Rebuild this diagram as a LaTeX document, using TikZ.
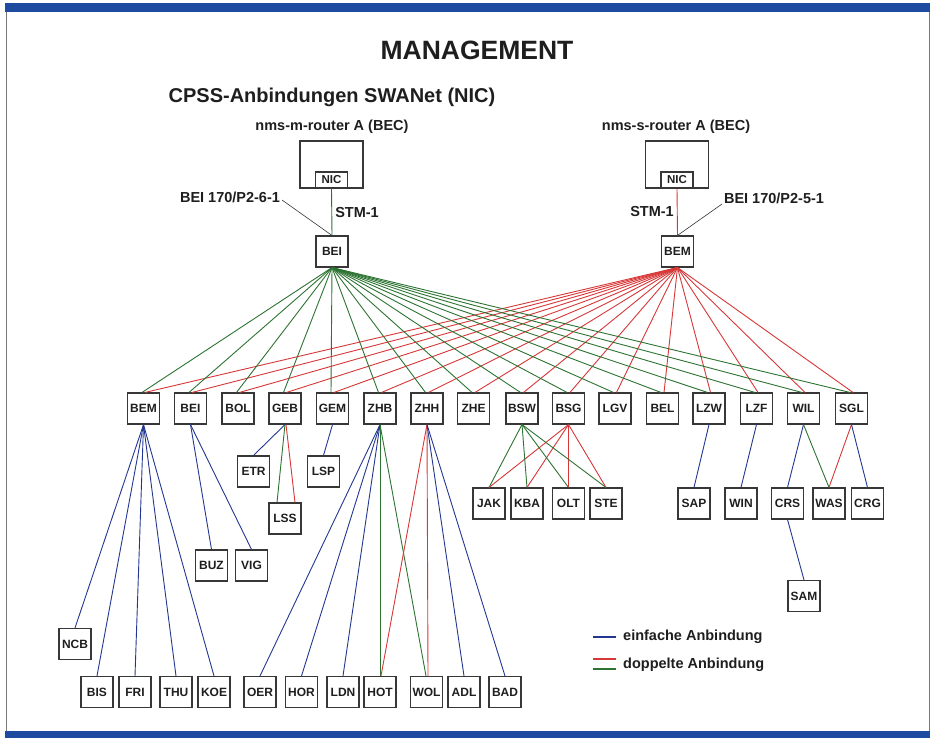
\documentclass[tikz,border=0pt]{standalone}
\usepackage{fontspec}
\setmainfont{Liberation Sans}
\usetikzlibrary{calc}
\definecolor{lgreen}{RGB}{45,115,50}
\definecolor{lred}{RGB}{215,55,55}
\definecolor{lblue}{RGB}{35,55,145}
\definecolor{barblue}{RGB}{30,75,160}
\definecolor{boxgray}{RGB}{55,55,55}
\definecolor{txt}{RGB}{30,30,30}
\definecolor{framegray}{RGB}{120,120,120}
\begin{document}
\begin{tikzpicture}[x=1pt,y=-1pt,
  box/.style={draw=boxgray, line width=1.1pt, minimum width=32pt, minimum height=31pt, inner sep=0pt, font=\fontsize{12}{12}\selectfont\bfseries, text=txt},
  nicbox/.style={draw=boxgray, line width=1.1pt, minimum width=32pt, minimum height=16pt, inner sep=0pt, font=\fontsize{11.5}{11.5}\selectfont\bfseries, text=txt},
  router/.style={draw=boxgray, line width=1.1pt, minimum width=63pt, minimum height=47pt, inner sep=0pt},
  lbl/.style={font=\fontsize{14.5}{14.5}\selectfont\bfseries, text=txt, inner sep=0pt},
  gl/.style={draw=lgreen, line width=0.9pt},
  rl/.style={draw=lred, line width=0.9pt},
  bl/.style={draw=lblue, line width=0.9pt},
  legl/.style={line width=1.2pt},
  leader/.style={draw=boxgray, line width=0.6pt}]
\useasboundingbox (0,0) rectangle (932,738);
% frame
\fill[barblue] (5,3) rectangle (930,12);
\fill[barblue] (5,731) rectangle (930,738);
\draw[framegray, line width=1pt] (6,12) -- (6,731);
\draw[framegray, line width=1pt] (929,12) -- (929,731);
% titles
\node[font=\fontsize{26.5}{26.5}\selectfont\bfseries, text=txt] (title) at (477,50) {MANAGEMENT};
\node[font=\fontsize{20}{20}\selectfont\bfseries, text=txt] (sub) at (332,97) {CPSS-Anbindungen SWANet (NIC)};
% routers
\node[lbl] (rtAlbl) at (332,127) {nms-m-router A (BEC)};
\node[router] (rtA) at (331.5,164.5) {};
\node[nicbox, anchor=south] (nicA) at (rtA.south) {NIC};
\node[lbl] (rtBlbl) at (676,127) {nms-s-router A (BEC)};
\node[router] (rtB) at (677,164.5) {};
\node[nicbox, anchor=south] (nicB) at (rtB.south) {NIC};
\node[box] (tBEI) at (332,251.5) {BEI};
\node[box] (tBEM) at (677.5,251.5) {BEM};
\node[lbl] (portA) at (230,197) {BEI 170/P2-6-1};
\node[lbl] (stmA) at (357,213) {STM-1};
\node[lbl] (portB) at (774,198) {BEI 170/P2-5-1};
\node[lbl] (stmB) at (652,212) {STM-1};
\coordinate (leadA) at (282,200);
\coordinate (leadB) at (722,204);
\draw[gl] (nicA.south) -- (tBEI.north);
\draw[rl] (nicB.south) -- (tBEM.north);
\draw[leader] (leadA) -- (tBEI.north);
\draw[leader] (leadB) -- (tBEM.north);
% row
\foreach \n/\x in {BEM/143.5,BEI/190.5,BOL/238,GEB/285,GEM/332.5,ZHB/380,ZHH/427,ZHE/473.5,BSW/522,BSG/568.5,LGV/615,BEL/662.5,LZW/709,LZF/756.5,WIL/803.5,SGL/851.5}
  \node[box] (r\n) at (\x,408.5) {\n};
% level 2
\foreach \n/\x in {JAK/489,KBA/527,OLT/568.5,STE/606,SAP/694,WIN/741,CRS/787.5,WAS/829,CRG/867.5}
  \node[box] (\n) at (\x,503.5) {\n};
\node[box] (ETR) at (253.5,471.5) {ETR};
\node[box] (LSP) at (323.5,471.5) {LSP};
\node[box] (LSS) at (285,518.5) {LSS};
\node[box] (BUZ) at (211.5,565.5) {BUZ};
\node[box] (VIG) at (251.5,565.5) {VIG};
\node[box] (NCB) at (75,644) {NCB};
\node[box] (SAM) at (804,596) {SAM};
\foreach \n/\x in {BIS/97,FRI/135,THU/176,KOE/214,OER/260,HOR/301.5,LDN/343,HOT/380,WOL/426.5,ADL/464,BAD/505}
  \node[box] (\n) at (\x,692) {\n};
% fans
\foreach \n in {rBEM,rBEI,rBOL,rGEB,rGEM,rZHB,rZHH,rZHE,rBSW,rBSG,rLGV,rBEL,rLZW,rLZF,rWIL,rSGL} {
  \draw[gl] (tBEI.south) -- ([xshift=-1.5pt]\n.north);
  \draw[rl] (tBEM.south) -- ([xshift=1.5pt]\n.north);
}
% children
\foreach \c in {NCB,BIS,FRI,THU,KOE} \draw[bl] (rBEM.south) -- (\c.north);
\foreach \c in {BUZ,VIG} \draw[bl] (rBEI.south) -- (\c.north);
\draw[bl] (rGEB.south) -- (ETR.north);
\draw[gl] (rGEB.south) -- ([xshift=-8pt]LSS.north);
\draw[rl] ([xshift=1pt]rGEB.south) -- ([xshift=10pt]LSS.north);
\draw[bl] (rGEM.south) -- (LSP.north);
\foreach \c in {OER,HOR,LDN} \draw[bl] (rZHB.south) -- (\c.north);
\draw[gl] (rZHB.south) -- (HOT.north);
\draw[gl] (rZHB.south) -- ([xshift=-0.5pt]WOL.north);
\draw[rl] (rZHH.south) -- ([xshift=1pt]HOT.north);
\draw[rl] (rZHH.south) -- ([xshift=1.5pt]WOL.north);
\foreach \c in {ADL,BAD} \draw[bl] (rZHH.south) -- (\c.north);
\foreach \c in {JAK,KBA,OLT,STE} {
  \draw[gl] (rBSW.south) -- (\c.north);
  \draw[rl] (rBSG.south) -- (\c.north);
}
\draw[bl] (rLZW.south) -- (SAP.north);
\draw[bl] (rLZF.south) -- (WIN.north);
\draw[bl] (rWIL.south) -- (CRS.north);
\draw[gl] (rWIL.south) -- (WAS.north);
\draw[rl] (rSGL.south) -- (WAS.north);
\draw[bl] (rSGL.south) -- (CRG.north);
\draw[bl] (CRS.south) -- (SAM.north);
% legend
\coordinate (lb1) at (593,637); \coordinate (lb2) at (616,637);
\coordinate (lr1) at (593,659); \coordinate (lr2) at (616,659);
\coordinate (lg1) at (593,669); \coordinate (lg2) at (616,669);
\draw[bl, legl] (lb1) -- (lb2);
\draw[rl, legl] (lr1) -- (lr2);
\draw[gl, legl] (lg1) -- (lg2);
\node[lbl, anchor=west] (leg1) at (623,637) {einfache Anbindung};
\node[lbl, anchor=west] (leg2) at (623,665) {doppelte Anbindung};
\end{tikzpicture}
\end{document}
